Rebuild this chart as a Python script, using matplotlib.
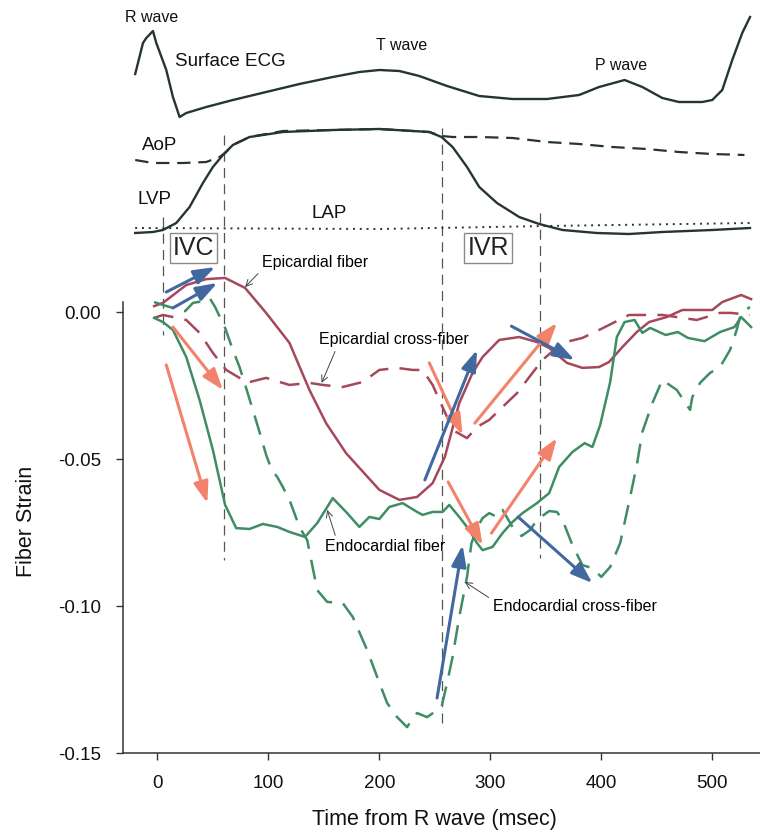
import matplotlib
matplotlib.use('Agg')
import matplotlib.pyplot as plt
from matplotlib.transforms import blended_transform_factory

plt.rcParams['font.family'] = ['Liberation Sans', 'DejaVu Sans']

# ---------------- strain data (time in msec from R wave) ----------------
epi_fiber_t = [-3, 5, 26, 44, 61, 79, 98, 119, 137, 152, 170, 200, 218, 234, 248, 259, 272,
               284, 293, 308, 326, 342, 353, 369, 383, 398, 407, 419, 432, 443, 459, 473,
               500, 509, 526, 535]
epi_fiber = [0.0020, 0.0031, 0.0092, 0.0112, 0.0116, 0.0082, -0.0003, -0.0105, -0.0265,
             -0.0378, -0.0480, -0.0605, -0.0639, -0.0629, -0.0582, -0.0493, -0.0310,
             -0.0207, -0.0153, -0.0095, -0.0085, -0.0102, -0.0122, -0.0173, -0.0190,
             -0.0187, -0.0170, -0.0119, -0.0068, -0.0034, -0.0017, 0.0007, 0.0007,
             0.0034, 0.0058, 0.0044]

epi_cross_t = [-3, 5, 14, 26, 38, 50, 62, 74, 80, 98, 119, 137, 149, 167, 185, 200, 216,
               230, 239, 248, 254, 261, 266, 279, 288, 299, 311, 324, 338, 347, 365, 383,
               398, 416, 425, 441, 455, 486, 507, 517, 534]
epi_cross = [-0.0020, -0.0010, -0.0017, -0.0027, -0.0071, -0.0139, -0.0197, -0.0224,
             -0.0241, -0.0224, -0.0248, -0.0241, -0.0248, -0.0255, -0.0238, -0.0197,
             -0.0190, -0.0197, -0.0197, -0.0248, -0.0299, -0.0357, -0.0401, -0.0429,
             -0.0391, -0.0367, -0.0323, -0.0276, -0.0207, -0.0163, -0.0105, -0.0088,
             -0.0061, -0.0027, -0.0010, -0.0010, -0.0010, -0.0027, -0.0003, -0.0003,
             -0.0010]

endo_fiber_t = [-3, 5, 14, 26, 38, 50, 61, 71, 83, 95, 108, 119, 133, 144, 158, 171, 182,
                191, 200, 209, 221, 234, 239, 248, 257, 263, 272, 281, 288, 293, 302, 311,
                320, 329, 342, 353, 362, 374, 385, 392, 399, 408, 414, 421, 430, 437, 444,
                458, 469, 478, 493, 507, 520, 526, 535]
endo_fiber = [-0.0020, -0.0034, -0.0061, -0.0153, -0.0299, -0.0469, -0.0656, -0.0735,
              -0.0738, -0.0721, -0.0731, -0.0748, -0.0765, -0.0718, -0.0633, -0.0684,
              -0.0731, -0.0697, -0.0704, -0.0663, -0.0650, -0.0680, -0.0690, -0.0680,
              -0.0680, -0.0656, -0.0697, -0.0741, -0.0786, -0.0810, -0.0799, -0.0752,
              -0.0714, -0.0684, -0.0650, -0.0616, -0.0527, -0.0476, -0.0446, -0.0459,
              -0.0384, -0.0238, -0.0085, -0.0034, -0.0027, -0.0071, -0.0054, -0.0078,
              -0.0068, -0.0088, -0.0099, -0.0068, -0.0051, -0.0017, -0.0051]

endo_cross_t = [-3, 5, 14, 25, 32, 41, 47, 52, 61, 68, 74, 80, 86, 92, 98, 103, 108, 113,
                119, 128, 135, 144, 153, 167, 176, 189, 198, 207, 216, 225, 229, 234, 243,
                256, 261, 266, 272, 279, 283, 288, 293, 299, 306, 311, 320, 328, 336, 342,
                353, 360, 365, 374, 383, 392, 400, 408, 417, 426, 432, 437, 446, 455, 468,
                480, 482, 489, 498, 507, 516, 522, 526, 534]
endo_cross = [0.0034, 0.0024, 0.0014, 0.0003, 0.0031, 0.0037, 0.0048, 0.0017, -0.0054,
              -0.0129, -0.0187, -0.0259, -0.0333, -0.0408, -0.0486, -0.0537, -0.0561,
              -0.0595, -0.0639, -0.0731, -0.0776, -0.0946, -0.0986, -0.0990, -0.1037,
              -0.1150, -0.1241, -0.1330, -0.1378, -0.1412, -0.1388, -0.1364, -0.1378,
              -0.1344, -0.1262, -0.1173, -0.1037, -0.0901, -0.0786, -0.0735, -0.0701,
              -0.0684, -0.0697, -0.0673, -0.0731, -0.0762, -0.0741, -0.0707, -0.0677,
              -0.0680, -0.0707, -0.0793, -0.0861, -0.0871, -0.0901, -0.0867, -0.0786,
              -0.0629, -0.0520, -0.0408, -0.0310, -0.0231, -0.0265, -0.0333, -0.0289,
              -0.0241, -0.0207, -0.0187, -0.0129, -0.0061, -0.0003, 0.0017]

# direction arrows: (t_start, strain_start, t_end, strain_end)
blue_arrows = [(8, 0.0068, 52, 0.0153), (14, 0.0014, 54, 0.0099),
               (241, -0.0571, 288, -0.0129), (319, -0.0048, 376, -0.0163),
               (252, -0.1313, 275, -0.0793), (325, -0.0697, 392, -0.0922)]
coral_arrows = [(14, -0.0051, 59, -0.0265), (8, -0.0180, 45, -0.0650),
                (245, -0.0173, 275, -0.0418), (286, -0.0378, 360, -0.0037),
                (262, -0.0578, 293, -0.0793), (301, -0.0752, 360, -0.0429)]

# ---------------- upper traces (arbitrary display units) ----------------
ecg_t = [-20, -13, -10, -4, -1, 8, 14, 20, 26, 44, 68, 98, 128, 158, 182, 200, 218, 236,
         261, 290, 320, 351, 380, 398, 421, 437, 455, 470, 491, 500, 509, 518, 527, 534]
ecg = [238, 269, 274, 281, 269, 242, 215, 195, 199, 205, 212, 220, 228, 235, 240, 242,
       241, 236, 226, 216, 213, 213, 217, 225, 232, 225, 214, 210, 210, 212, 222, 252,
       279, 295]

lvp_t = [-20, -4, 5, 17, 29, 41, 50, 59, 68, 83, 113, 158, 200, 230, 245, 256, 266, 279,
         290, 306, 326, 344, 365, 396, 425, 455, 500, 534]
lvp = [79, 80, 82, 89, 105, 129, 145, 157, 167, 175, 180, 182, 183, 181, 180, 175, 165,
       145, 125, 109, 95, 88, 82, 79, 78, 80, 82, 84]

aop_t = [-20, -4, 23, 44, 56, 61, 68, 83, 113, 158, 200, 230, 245, 256, 266, 290, 320,
         351, 380, 410, 441, 470, 500, 529]
aop = [152, 149, 149, 150, 155, 159, 167, 175, 181, 182, 183, 181, 180, 176, 175, 175,
       174, 170, 168, 165, 163, 160, 158, 157]

lap_t = [-20, 200, 351, 535]
lap = [84, 83, 86, 89]

# event times (msec)
ivc_times = [5, 60]
ivr_times = [256, 345]

# ---------------- styling ----------------
RED = '#a5485a'
GREEN = '#3f8d64'
BLUE = '#41699f'
CORAL = '#f2826c'
DARK = '#26352f'

W, H = 760, 836
fig = plt.figure(figsize=(W / 100, H / 100), dpi=100)
fig.patch.set_facecolor('white')

ax = fig.add_axes([123 / W, 1 - 753 / H, 637 / W, (753 - 265) / H])
ax.set_facecolor('none')
top = fig.add_axes([123 / W, 1 - 312 / H, 637 / W, 312 / H])
top.set_facecolor('none')
top.axis('off')

for a in (ax, top):
    a.set_xlim(-31, 543)
ax.set_ylim(-0.15, 0.016)
top.set_ylim(0, 312)

# upper traces
top.plot(ecg_t, ecg, color=DARK, lw=1.7, clip_on=False)
top.plot(lvp_t, lvp, color=DARK, lw=1.7, clip_on=False)
top.plot(aop_t, aop, color=DARK, lw=1.6, dashes=(6, 3.5), clip_on=False)
top.plot(lap_t, lap, color=DARK, lw=1.4, dashes=(1, 2.5), clip_on=False)

lab = dict(color='#111111', clip_on=False)
top.text(-5, 294, 'R wave', fontsize=11.5, ha='center', va='center', **lab)
top.text(16, 250, 'Surface ECG', fontsize=13.5, ha='left', va='center', **lab)
top.text(220, 267, 'T wave', fontsize=11.5, ha='center', va='center', **lab)
top.text(418, 247, 'P wave', fontsize=11.5, ha='center', va='center', **lab)
top.text(-14, 167, 'AoP', fontsize=13.5, ha='left', va='center', **lab)
top.text(-18, 112, 'LVP', fontsize=13.5, ha='left', va='center', **lab)
top.text(139, 99, 'LAP', fontsize=13.5, ha='left', va='center', **lab)

box = dict(boxstyle='square,pad=0.12', fc='white', ec='#8a8a8a', lw=1.0)
top.text((ivc_times[0] + ivc_times[1]) / 2, 64, 'IVC', fontsize=18, ha='center',
         va='center', bbox=box, color='#222222')
top.text(298, 64, 'IVR', fontsize=18, ha='center', va='center', bbox=box,
         color='#222222')

# vertical event lines
tr = blended_transform_factory(ax.transData, fig.transFigure)
vspans = {ivc_times[0]: (217, 335), ivc_times[1]: (135, 560),
          ivr_times[0]: (128, 723), ivr_times[1]: (213, 558)}
for t, (y0, y1) in vspans.items():
    ax.plot([t, t], [1 - y0 / H, 1 - y1 / H], transform=tr, color='#555555', lw=0.9,
            dashes=(8, 5), clip_on=False, zorder=1)

# strain curves
ax.plot(epi_fiber_t, epi_fiber, color=RED, lw=1.8, clip_on=False, zorder=3)
ax.plot(epi_cross_t, epi_cross, color=RED, lw=1.8, dashes=(8, 4.5), clip_on=False, zorder=3)
ax.plot(endo_fiber_t, endo_fiber, color=GREEN, lw=1.8, clip_on=False, zorder=3)
ax.plot(endo_cross_t, endo_cross, color=GREEN, lw=1.8, dashes=(8, 4.5), clip_on=False,
        zorder=3)

for arrows, col in ((coral_arrows, CORAL), (blue_arrows, BLUE)):
    for t0, s0, t1, s1 in arrows:
        ax.annotate('', xy=(t1, s1), xytext=(t0, s0), annotation_clip=False,
                    arrowprops=dict(arrowstyle='-|>,head_length=0.8,head_width=0.28',
                                    mutation_scale=16, lw=2.2, color=col,
                                    shrinkA=0, shrinkB=0), zorder=4)

# curve labels
ann = dict(arrowstyle='->', lw=0.7, color='#444444', shrinkA=1, shrinkB=0)
ax.annotate('Epicardial fiber', xy=(79, 0.0085), xytext=(94, 0.0167), fontsize=11.5,
            ha='left', va='center', annotation_clip=False,
            arrowprops=dict(relpos=(0.02, 0.2), **ann))
ax.annotate('Epicardial cross-fiber', xy=(148, -0.0241), xytext=(146, -0.0095),
            fontsize=11.5, ha='left', va='center', annotation_clip=False,
            arrowprops=dict(relpos=(0.12, 0.1), **ann))
ax.annotate('Endocardial fiber', xy=(153, -0.0673), xytext=(151, -0.0799),
            fontsize=11.5, ha='left', va='center', annotation_clip=False,
            arrowprops=dict(relpos=(0.1, 0.9), **ann))
ax.annotate('Endocardial cross-fiber', xy=(277, -0.0918), xytext=(302, -0.1000),
            fontsize=11.5, ha='left', va='center', annotation_clip=False,
            arrowprops=dict(relpos=(0.0, 0.9), **ann))

# axes styling
for s in ('top', 'right'):
    ax.spines[s].set_visible(False)
ax.spines['left'].set_bounds(-0.15, 0.0035)
for s in ('left', 'bottom'):
    ax.spines[s].set_color('#333333')
    ax.spines[s].set_linewidth(1.1)
ax.set_yticks([0.0, -0.05, -0.10, -0.15])
ax.set_yticklabels(['0.00', '-0.05', '-0.10', '-0.15'])
ax.set_xticks([0, 100, 200, 300, 400, 500])
ax.tick_params(direction='out', length=5, width=1, pad=11, labelsize=13.5,
               colors='#333333', labelcolor='#111111')

fig.text(27 / W, 1 - 521 / H, 'Fiber Strain', rotation=90, ha='center', va='center',
         fontsize=15.5, color='#111111')
fig.text(434 / W, 1 - 820 / H, 'Time from R wave (msec)', ha='center', va='center',
         fontsize=15.5, color='#111111')

fig.savefig('out.png', dpi=100, facecolor='white')
